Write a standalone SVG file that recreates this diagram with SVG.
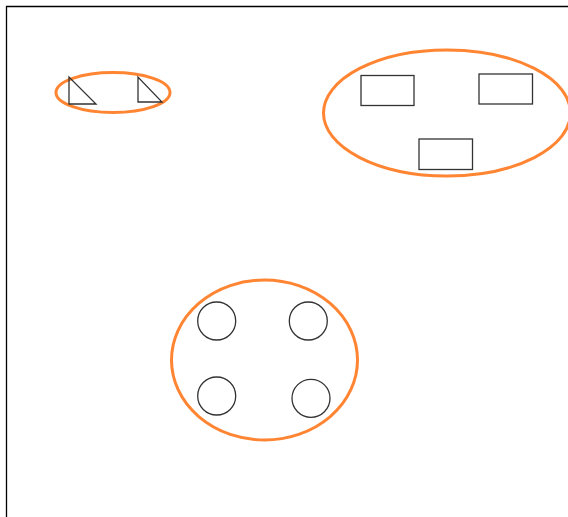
<svg xmlns="http://www.w3.org/2000/svg" width="568" height="517" viewBox="0 0 568 517">
<style>
.grp{fill:none;stroke:#ff8533;stroke-width:3}
.shp{fill:none;stroke:#333;stroke-width:1.3}
</style>
<rect width="568" height="517" fill="#fff"/>
<path d="M6.5,517 V6.5 H568" fill="none" stroke="#000" stroke-width="1.3"/>
<g id="group-triangles">
<ellipse class="grp" cx="113" cy="92.5" rx="57" ry="20"/>
<g id="tri1"><polygon class="shp" points="69,77 69,104 96,104"/></g>
<g id="tri2"><polygon class="shp" points="138,77 138,102 162,102"/></g>
</g>
<g id="group-rects">
<ellipse class="grp" cx="447" cy="113" rx="123.5" ry="63"/>
<g id="rect1"><rect class="shp" x="361" y="75.5" width="53" height="30"/></g>
<g id="rect2"><rect class="shp" x="479" y="74" width="53.5" height="30"/></g>
<g id="rect3"><rect class="shp" x="419" y="139" width="53.5" height="30.5"/></g>
</g>
<g id="group-circles">
<ellipse class="grp" cx="264.5" cy="360" rx="93" ry="80"/>
<g id="c1"><circle class="shp" cx="216.7" cy="321" r="19"/></g>
<g id="c2"><circle class="shp" cx="308.3" cy="321" r="19"/></g>
<g id="c3"><circle class="shp" cx="216.7" cy="396" r="19"/></g>
<g id="c4"><circle class="shp" cx="311" cy="398.3" r="19"/></g>
</g>
<g id="connectors"></g>
</svg>
